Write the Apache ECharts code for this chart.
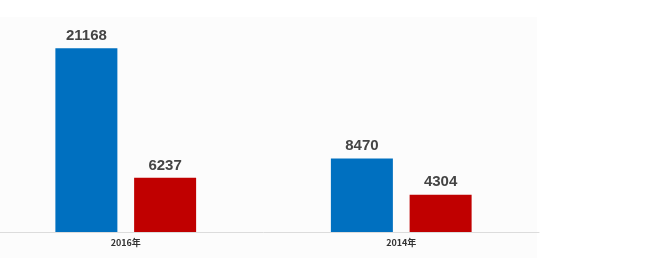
<!DOCTYPE html>
<html><head><meta charset="utf-8">
<script src="https://cdn.jsdelivr.net/npm/echarts@6/dist/echarts.min.js"></script>
<style>html,body{margin:0;padding:0;background:#fff;overflow:hidden}#c{width:675px;height:278px;margin-left:-12px}</style>
</head><body><div id="c"></div>
<script>
const categories = ['2016年', '2014年'];
const seriesA = [21168, 8470];
const seriesB = [6237, 4304];
const chart = echarts.init(document.getElementById('c'));
const labelStyle = {show: true, position: 'top', distance: 5, color: '#444', fontSize: 15, fontWeight: 'bold', fontFamily: 'Liberation Sans, sans-serif'};
chart.setOption({
  backgroundColor: '#fff',
  animation: false,
  graphic: [{type: 'rect', shape: {x: 12, y: 17, width: 537, height: 241}, style: {fill: '#fcfcfc'}, z: -10}],
  grid: {left: 0, right: 124, top: 15, bottom: 46},
  xAxis: {type: 'category', data: categories,
    axisLine: {lineStyle: {color: '#dcdcdc', width: 1}}, axisTick: {show: false},
    axisLabel: {color: '#333', fontSize: 9, fontWeight: 'bold', margin: 6, fontFamily: 'Noto Sans CJK SC, sans-serif'}},
  yAxis: {type: 'value', min: 0, max: 25000, show: false, splitLine: {show: false}},
  series: [
    {type: 'bar', data: seriesA, barWidth: 62, barGap: '27%', itemStyle: {color: '#0070c0'}, label: labelStyle},
    {type: 'bar', data: seriesB, barWidth: 62, itemStyle: {color: '#c00000'}, label: labelStyle}
  ]
});
</script></body></html>
